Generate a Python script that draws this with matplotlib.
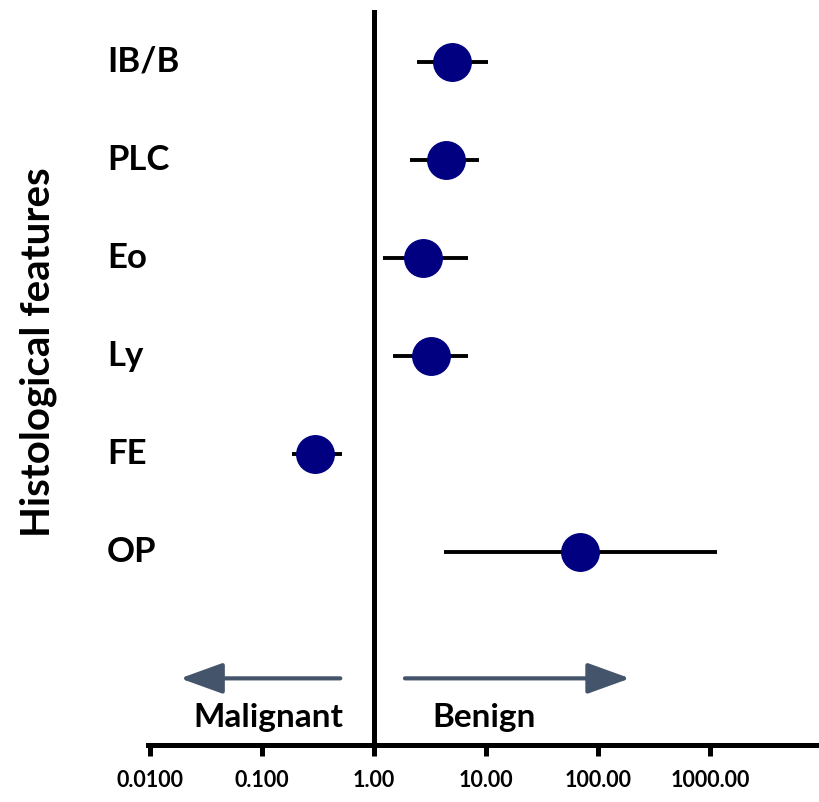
import matplotlib

matplotlib.use("Agg")
import matplotlib.pyplot as plt
import matplotlib.transforms as mtransforms
import numpy as np

plt.rcParams["font.family"] = ["Lato", "DejaVu Sans"]
plt.rcParams["font.weight"] = "bold"

# Odds ratios with 95% CI per histological feature
features = ["IB/B", "PLC", "Eo", "Ly", "FE", "OP"]
odds = np.array([4.97, 4.4, 2.74, 3.2, 0.30, 69.0])
ci_low = np.array([2.42, 2.1, 1.2, 1.48, 0.185, 4.2])
ci_high = np.array([10.4, 8.7, 6.9, 6.9, 0.52, 1150.0])

tick_values = [0.01, 0.1, 1, 10, 100, 1000]
tick_labels = ["0.0100", "0.100", "1.00", "10.00", "100.00", "1000.00"]

W, H = 819, 802
fig = plt.figure(figsize=(W / 100, H / 100), dpi=100)
ax = fig.add_axes([148 / W, 1 - 745 / H, 1 - 148 / W, (745 - 10) / H])

ypos = np.arange(len(features))[::-1] + 1.0  # IB/B at top

ax.errorbar(
    odds,
    ypos,
    xerr=[odds - ci_low, ci_high - odds],
    fmt="o",
    color="#000080",
    markersize=27,
    markeredgecolor="#000080",
    ecolor="black",
    elinewidth=2.8,
    capsize=0,
    zorder=3,
)

ax.axvline(1, color="black", lw=3.6, zorder=2)

ax.set_xscale("log")
ax.set_xlim(0.0096, 9400)
ax.set_ylim(-0.97, 6.53)
ax.set_xticks(tick_values)
ax.set_xticklabels(tick_labels)
ax.xaxis.set_minor_locator(matplotlib.ticker.NullLocator())
ax.tick_params(axis="x", length=8, width=3.6, pad=10, labelsize=15.5, direction="out")
ax.set_yticks([])

for side in ["top", "right", "left"]:
    ax.spines[side].set_visible(False)
ax.spines["bottom"].set_linewidth(3.6)

# feature names to the left of the plotting area
trans = mtransforms.blended_transform_factory(fig.transFigure, ax.transData)
for name, y in zip(features, ypos):
    ax.text(107 / W, y, name, transform=trans, ha="left", va="center",
            fontsize=25, fontweight="bold")

fig.text(38 / W, 1 - 352 / H, "Histological features", rotation=90,
         ha="center", va="center", fontsize=29, fontweight="bold")

# direction arrows
arrow_y = -0.29
arrow_kw = dict(arrowstyle="-|>,head_length=1.05,head_width=0.38", color="#44546A",
                lw=3, mutation_scale=25, shrinkA=0, shrinkB=0)
ax.annotate("", xy=(0.0186, arrow_y), xytext=(0.50, arrow_y), arrowprops=arrow_kw)
ax.annotate("", xy=(193, arrow_y), xytext=(1.89, arrow_y), arrowprops=arrow_kw)

ax.text(0.113, -0.69, "Malignant", ha="center", va="center", fontsize=24, fontweight="bold")
ax.text(9.6, -0.69, "Benign", ha="center", va="center", fontsize=24, fontweight="bold")

fig.savefig("out.png", dpi=100)
